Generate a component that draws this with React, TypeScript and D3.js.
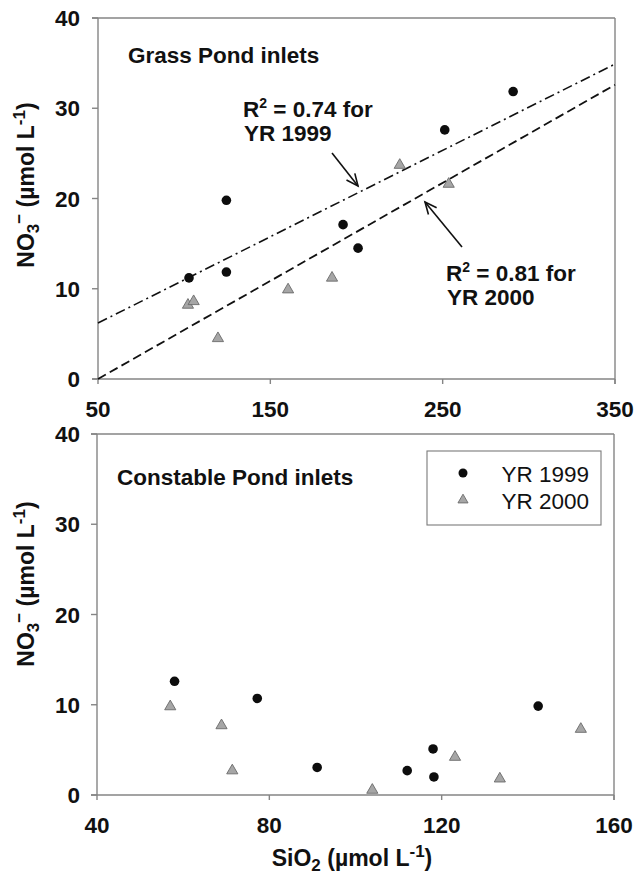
import React from "react";
import * as d3 from "d3";

// ---- Data ----
const grass1999X = [102.8, 124.5, 124.5, 192.2, 200.9, 251.2, 290.9];
const grass1999Y = [11.2, 19.8, 11.85, 17.1, 14.5, 27.6, 31.85];
const grass2000X = [102.2, 105.5, 119.6, 160.3, 185.8, 225.1, 253.5];
const grass2000Y = [8.2, 8.6, 4.5, 9.9, 11.2, 23.7, 21.6];

const fit1999X = [50, 350];
const fit1999Y = [6.2, 34.9];
const fit2000X = [50, 350];
const fit2000Y = [0, 32.6];

const const1999X = [58.0, 77.2, 91.1, 112.0, 118.0, 118.2, 142.4];
const const1999Y = [12.6, 10.7, 3.05, 2.7, 5.1, 2.0, 9.85];
const const2000X = [57.0, 68.9, 71.4, 103.9, 123.1, 133.5, 152.3];
const const2000Y = [9.8, 7.7, 2.7, 0.55, 4.2, 1.8, 7.3];

const topXTicks = [50, 150, 250, 350];
const botXTicks = [40, 80, 120, 160];
const yTicks = [0, 10, 20, 30, 40];

const topTitle = "Grass Pond inlets";
const botTitle = "Constable Pond inlets";
const legendLabels = ["YR 1999", "YR 2000"];

// ---- Styling ----
const FONT = "'Liberation Sans', Arial, Helvetica, sans-serif";
const AXIS = "#858585";
const DOT = "#0d0d0d";
const TRI_FILL = "#a6a6a6";
const TRI_STROKE = "#6a6a6a";

const triPath = d3.symbol().type(d3.symbolTriangle).size(54)();
const triPathSmall = d3.symbol().type(d3.symbolTriangle).size(44)();

type Scale = d3.ScaleLinear<number, number>;

function Frame({ x, y, xTicks }: { x: Scale; y: Scale; xTicks: number[] }) {
  const [x0, x1] = x.range();
  const [y0, y1] = y.range();
  return (
    <g>
      <line x1={x0} x2={x0} y1={y1} y2={y0} stroke={AXIS} strokeWidth={1.4} />
      <line x1={x0 - 6} x2={x1} y1={y0} y2={y0} stroke={AXIS} strokeWidth={1.4} />
      <line x1={x0 - 6} x2={x1} y1={y1} y2={y1} stroke={AXIS} strokeWidth={1.4} />
      <line x1={x1} x2={x1} y1={y1} y2={y0 + 5} stroke={AXIS} strokeWidth={1.4} />
      {yTicks.map((t) => (
        <g key={"y" + t}>
          <line x1={x0 - 6} x2={x0} y1={y(t)} y2={y(t)} stroke={AXIS} strokeWidth={1.4} />
          <text
            x={80}
            y={y(t)}
            dy="0.36em"
            textAnchor="end"
            fontFamily={FONT}
            fontWeight="bold"
            fontSize={22.5}
            fill="#111"
          >
            {t}
          </text>
        </g>
      ))}
      {xTicks.map((t) => (
        <g key={"x" + t}>
          <line x1={x(t)} x2={x(t)} y1={y0} y2={y0 + 5} stroke={AXIS} strokeWidth={1.4} />
          <text
            x={x(t)}
            y={y0 + 38}
            textAnchor="middle"
            fontFamily={FONT}
            fontWeight="bold"
            fontSize={22.5}
            fill="#111"
          >
            {t}
          </text>
        </g>
      ))}
    </g>
  );
}

function YLabel({ cx, cy }: { cx: number; cy: number }) {
  return (
    <text
      transform={`translate(${cx},${cy}) rotate(-90)`}
      textAnchor="middle"
      fontFamily={FONT}
      fontWeight="bold"
      fontSize={23}
      fill="#111"
    >
      NO
      <tspan fontSize={17} dy={5}>3</tspan>
      <tspan fontSize={17} dy={-14}>−</tspan>
      <tspan dy={9}> (µmol L</tspan>
      <tspan fontSize={17} dy={-9}>-1</tspan>
      <tspan dy={9}>)</tspan>
    </text>
  );
}

function Arrow({ x1, y1, x2, y2 }: { x1: number; y1: number; x2: number; y2: number }) {
  const a = Math.atan2(y2 - y1, x2 - x1);
  const L = 13;
  const spread = 0.42;
  const p1 = [x2 - L * Math.cos(a - spread), y2 - L * Math.sin(a - spread)];
  const p2 = [x2 - L * Math.cos(a + spread), y2 - L * Math.sin(a + spread)];
  return (
    <g stroke="#111" strokeWidth={1.6} fill="none">
      <line x1={x1} y1={y1} x2={x2} y2={y2} />
      <polyline points={`${p1[0]},${p1[1]} ${x2},${y2} ${p2[0]},${p2[1]}`} />
    </g>
  );
}

function Points({
  x,
  y,
  xs1,
  ys1,
  xs2,
  ys2,
}: {
  x: Scale;
  y: Scale;
  xs1: number[];
  ys1: number[];
  xs2: number[];
  ys2: number[];
}) {
  return (
    <g>
      {xs2.map((v, i) => (
        <path
          key={"t" + i}
          d={triPath || ""}
          transform={`translate(${x(v)},${y(ys2[i])})`}
          fill={TRI_FILL}
          stroke={TRI_STROKE}
          strokeWidth={0.9}
        />
      ))}
      {xs1.map((v, i) => (
        <circle key={"c" + i} cx={x(v)} cy={y(ys1[i])} r={4.8} fill={DOT} />
      ))}
    </g>
  );
}

export default function App() {
  const xTop = d3.scaleLinear().domain([50, 350]).range([98, 615]);
  const yTop = d3.scaleLinear().domain([0, 40]).range([379, 18]);
  const xBot = d3.scaleLinear().domain([40, 160]).range([97, 614]);
  const yBot = d3.scaleLinear().domain([0, 40]).range([795, 434]);

  const line = d3
    .line<[number, number]>()
    .x((d) => xTop(d[0]))
    .y((d) => yTop(d[1]));
  const l1999 = line(fit1999X.map((v, i) => [v, fit1999Y[i]] as [number, number])) || "";
  const l2000 = line(fit2000X.map((v, i) => [v, fit2000Y[i]] as [number, number])) || "";

  return (
    <svg
      width={634}
      height={881}
      style={{ position: "absolute", left: 0, top: 0, background: "#fff" }}
    >
      <rect width={634} height={881} fill="#fff" />

      {/* ---------- Top panel ---------- */}
      <Frame x={xTop} y={yTop} xTicks={topXTicks} />
      <path d={l1999} stroke="#111" strokeWidth={1.6} fill="none" strokeDasharray="10,4,2,4" />
      <path d={l2000} stroke="#111" strokeWidth={1.8} fill="none" strokeDasharray="9,4.5" />
      <Points
        x={xTop}
        y={yTop}
        xs1={grass1999X}
        ys1={grass1999Y}
        xs2={grass2000X}
        ys2={grass2000Y}
      />
      <text x={128} y={63} fontFamily={FONT} fontWeight="bold" fontSize={22.5} fill="#111">
        {topTitle}
      </text>
      <text x={243} y={117} fontFamily={FONT} fontWeight="bold" fontSize={22.5} fill="#111">
        R<tspan fontSize={14} dy={-9}>2</tspan>
        <tspan dy={9}> = 0.74 for</tspan>
      </text>
      <text x={244} y={141} fontFamily={FONT} fontWeight="bold" fontSize={22.5} fill="#111">
        YR 1999
      </text>
      <Arrow x1={332} y1={153} x2={358} y2={186} />
      <text x={446} y={281} fontFamily={FONT} fontWeight="bold" fontSize={22.5} fill="#111">
        R<tspan fontSize={14} dy={-9}>2</tspan>
        <tspan dy={9}> = 0.81 for</tspan>
      </text>
      <text x={447} y={305} fontFamily={FONT} fontWeight="bold" fontSize={22.5} fill="#111">
        YR 2000
      </text>
      <Arrow x1={462} y1={247} x2={425} y2={202} />
      <YLabel cx={34} cy={185} />

      {/* ---------- Bottom panel ---------- */}
      <Frame x={xBot} y={yBot} xTicks={botXTicks} />
      <Points
        x={xBot}
        y={yBot}
        xs1={const1999X}
        ys1={const1999Y}
        xs2={const2000X}
        ys2={const2000Y}
      />
      <text x={117} y={485} fontFamily={FONT} fontWeight="bold" fontSize={22.5} fill="#111">
        {botTitle}
      </text>
      <YLabel cx={34} cy={584} />

      {/* legend */}
      <rect x={427} y={451} width={174} height={74} fill="#fff" stroke="#7a7a7a" strokeWidth={1.1} />
      <circle cx={463} cy={473} r={4.5} fill={DOT} />
      <path
        d={triPathSmall || ""}
        transform="translate(463,500)"
        fill={TRI_FILL}
        stroke={TRI_STROKE}
        strokeWidth={0.9}
      />
      <text x={589} y={481.5} textAnchor="end" fontFamily={FONT} fontSize={22.5} fill="#111">
        {legendLabels[0]}
      </text>
      <text x={589} y={508.5} textAnchor="end" fontFamily={FONT} fontSize={22.5} fill="#111">
        {legendLabels[1]}
      </text>

      {/* x-axis title */}
      <text x={352} y={866} textAnchor="middle" fontFamily={FONT} fontWeight="bold" fontSize={23} fill="#111">
        SiO<tspan fontSize={17} dy={5}>2</tspan>
        <tspan dy={-5}> (µmol L</tspan>
        <tspan fontSize={17} dy={-9}>-1</tspan>
        <tspan dy={9}>)</tspan>
      </text>
    </svg>
  );
}
